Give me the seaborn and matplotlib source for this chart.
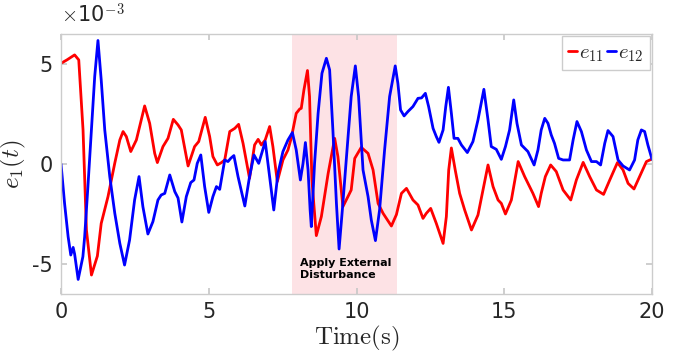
import matplotlib
matplotlib.use("Agg")
import matplotlib.pyplot as plt
import pandas as pd
import seaborn as sns

# values, error in units of 1e-3
t_e11 = [0, 0.2, 0.46, 0.6, 0.745, 0.86, 1.03, 1.23, 1.36, 1.59, 1.82, 1.99, 2.10, 2.21,
         2.36, 2.55, 2.83, 3.0, 3.17, 3.26, 3.45, 3.62, 3.8, 3.96, 4.07, 4.30, 4.52, 4.66,
         4.88, 5.03, 5.14, 5.29, 5.43, 5.54, 5.71, 5.88, 6.01, 6.16, 6.38, 6.55, 6.67, 6.78,
         6.91, 7.06, 7.17, 7.32, 7.51, 7.68, 7.79, 7.96, 8.08, 8.13, 8.22, 8.34, 8.41, 8.49,
         8.64, 8.81, 9.04, 9.26, 9.37, 9.54, 9.71, 9.82, 9.94, 10.16, 10.39, 10.56, 10.73,
         10.9, 11.18, 11.35, 11.52, 11.69, 11.91, 12.08, 12.25, 12.36, 12.51, 12.7, 12.93,
         13.04, 13.12, 13.21, 13.34, 13.49, 13.66, 13.89, 14.11, 14.28, 14.45, 14.62, 14.79,
         14.9, 15.04, 15.24, 15.47, 15.69, 15.97, 16.16, 16.25, 16.39, 16.57, 16.76, 16.99,
         17.25, 17.44, 17.67, 17.89, 18.12, 18.36, 18.57, 18.83, 19.02, 19.19, 19.39, 19.58,
         19.81, 20.0]
e11 = [5.03, 5.2, 5.45, 5.2, 1.7, -3.3, -5.55, -4.6, -2.97, -1.63, 0.05, 1.2, 1.62, 1.37,
       0.62, 1.2, 2.9, 2.03, 0.53, 0.07, 0.87, 1.28, 2.23, 1.95, 1.7, -0.1, 0.87, 1.12,
       2.33, 1.37, 0.37, -0.05, 0.07, 0.2, 1.62, 1.78, 1.98, 1.03, -0.72, 0.95, 1.23, 0.95,
       1.2, 1.87, 0.87, -0.88, 0.2, 0.7, 1.28, 2.53, 2.75, 2.78, 3.7, 4.67, 3.37, -0.8,
       -3.58, -2.63, -0.47, 1.28, 0.37, -2.13, -1.63, -1.3, 0.28, 0.83, 0.53, -0.3, -1.97,
       -2.47, -3.1, -2.53, -1.47, -1.22, -1.8, -2.05, -2.72, -2.47, -2.22, -2.97, -3.97,
       -2.63, -0.3, 0.8, -0.3, -1.47, -2.3, -3.3, -2.55, -1.3, -0.05, -1.13, -1.8,
       -1.97, -2.5, -1.8, 0.12, -0.63, -1.47, -2.13, -1.47, -0.63, -0.05, -0.38, -1.3,
       -1.8, -0.8, 0.08, -0.63, -1.3, -1.52, -0.8, 0.07, -0.3, -0.97, -1.25, -0.63,
       0.12, 0.25]

t_e12 = [0, 0.12, 0.24, 0.33, 0.41, 0.46, 0.58, 0.67, 0.74, 0.8, 0.91, 1.03, 1.14, 1.25,
         1.36, 1.48, 1.65, 1.82, 1.99, 2.15, 2.32, 2.49, 2.64, 2.77, 2.94, 3.11, 3.28, 3.39,
         3.51, 3.68, 3.85, 3.96, 4.09, 4.24, 4.39, 4.5, 4.61, 4.73, 4.86, 5.0, 5.14, 5.26,
         5.37, 5.54, 5.65, 5.74, 5.85, 5.99, 6.22, 6.38, 6.53, 6.69, 6.91, 7.06, 7.2, 7.34,
         7.51, 7.68, 7.83, 7.96, 8.1, 8.19, 8.27, 8.36, 8.43, 8.47, 8.58, 8.7, 8.83, 8.98,
         9.09, 9.2, 9.32, 9.41, 9.52, 9.66, 9.82, 9.96, 10.07, 10.22, 10.39, 10.5, 10.64,
         10.78, 10.95, 11.12, 11.31, 11.4, 11.49, 11.61, 11.74, 11.91, 12.08, 12.2, 12.33,
         12.44, 12.59, 12.7, 12.79, 12.93, 13.02, 13.11, 13.21, 13.3, 13.43, 13.55, 13.75,
         13.94, 14.11, 14.31, 14.45, 14.56, 14.73, 14.9, 15.04, 15.18, 15.32, 15.43, 15.58,
         15.8, 16.01, 16.14, 16.25, 16.37, 16.48, 16.59, 16.7, 16.84, 16.99, 17.21, 17.33,
         17.46, 17.61, 17.78, 17.95, 18.12, 18.26, 18.4, 18.51, 18.68, 18.85, 19.02, 19.24,
         19.41, 19.52, 19.64, 19.75, 19.86, 20.0]
e12 = [0, -1.97, -3.63, -4.55, -4.17, -4.5, -5.77, -5.13, -4.63, -3.63, -1.13, 1.7, 4.37, 6.17,
       4.2, 1.7, -0.63, -2.47, -3.97, -5.05, -3.8, -1.8, -0.63, -2.13, -3.5, -2.88, -1.8, -1.55,
       -1.47, -0.55, -1.38, -1.7, -2.9, -1.63, -0.93, -0.8, 0.03, 0.45, -1.13, -2.42, -1.63, -1.13,
       -1.27, 0.2, 0.12, 0.28, 0.42, -0.63, -2.1, -0.63, 0.45, 0.03, 1.12, -0.63, -2.3, -0.47,
       0.62, 1.2, 1.57, 0.7, -0.8, 0.03, 1.07, -0.3, -2.3, -3.13, 0.03, 2.53, 4.53, 5.28,
       4.7, 1.7, -1.97, -4.25, -2.3, 0.37, 3.37, 4.9, 3.37, -0.3, -1.63, -2.8, -3.83,
       -2.3, 0.7, 3.37, 4.9, 4.03, 2.7, 2.4, 2.62, 2.87, 3.28, 3.3, 3.53,
       2.87, 1.78, 1.37, 1.08, 1.7, 2.87, 3.83, 2.53, 1.28, 1.28, 0.95, 0.57,
       1.12, 2.2, 3.73, 2.2, 0.87, 0.73, 0.23, 0.87, 1.7, 3.2, 2.03, 0.95,
       0.62, -0.05, 0.7, 1.7, 2.28, 2.03, 1.45, 1.03, 0.28, 0.2, 0.2, 1.2,
       2.12, 1.62, 0.7, 0.12, 0.12, -0.05, 1.03, 1.67, 1.37, 0.2, -0.1, -0.3,
       0.2, 1.2, 1.7, 1.62, 0.95, 0.23]

disturb_start, disturb_end = 7.83, 11.36
x_ticks = [0, 5, 10, 15, 20]
y_ticks = [-5, 0, 5]

sns.set_theme(style="ticks")
plt.rcParams["font.family"] = ["DejaVu Sans"]
plt.rcParams["mathtext.fontset"] = "cm"
plt.rcParams["axes.unicode_minus"] = False

df11 = pd.DataFrame({"t": t_e11, "e": e11})
df12 = pd.DataFrame({"t": t_e12, "e": e12})

fig = plt.figure(figsize=(6.88, 3.53), dpi=100)
ax = fig.add_axes([0.0887, 0.167, 0.859, 0.737])

ax.axvspan(disturb_start, disturb_end, color="#fde2e5", lw=0, zorder=0)
ax.text(8.1, -5.25, "Apply External\nDisturbance", fontsize=8, fontweight="bold",
        color="black", va="center", ha="left", linespacing=1.15)

sns.lineplot(data=df11, x="t", y="e", color="red", lw=2, sort=False, estimator=None,
             label="$e_{11}$", ax=ax, solid_joinstyle="round")
sns.lineplot(data=df12, x="t", y="e", color="blue", lw=2, sort=False, estimator=None,
             label="$e_{12}$", ax=ax, solid_joinstyle="round")

ax.set_xlim(0, 20)
ax.set_ylim(-6.5, 6.5)
ax.set_xticks(x_ticks)
ax.set_yticks(y_ticks)
ax.set_xticklabels([str(v) for v in x_ticks])
ax.set_yticklabels([str(v) for v in y_ticks])
ax.tick_params(direction="in", length=4, color="#c8c8c8", labelsize=15,
               labelcolor="#262626", top=True, right=True, pad=6)
for s in ax.spines.values():
    s.set_color("#cccccc")
    s.set_linewidth(1)

ax.set_xlabel(r"$\mathrm{Time(s)}$", fontsize=18, color="#262626", labelpad=1)
ax.set_ylabel(r"$e_1(t)$", fontsize=18, color="#262626")
ax.yaxis.set_label_coords(-0.056, 0.5)
fig.text(0.089, 0.925, r"$\times$10$^{\mathsf{-3}}$", fontsize=15, color="#262626",
         ha="left", va="bottom")

ax.legend(loc="upper right", ncol=2, handlelength=0.45, handletextpad=0.1,
          columnspacing=0.1, borderpad=0.3, borderaxespad=0.1, fontsize=15,
          frameon=True, fancybox=False, edgecolor="#cccccc", framealpha=1)

fig.savefig("out.png", dpi=100)
